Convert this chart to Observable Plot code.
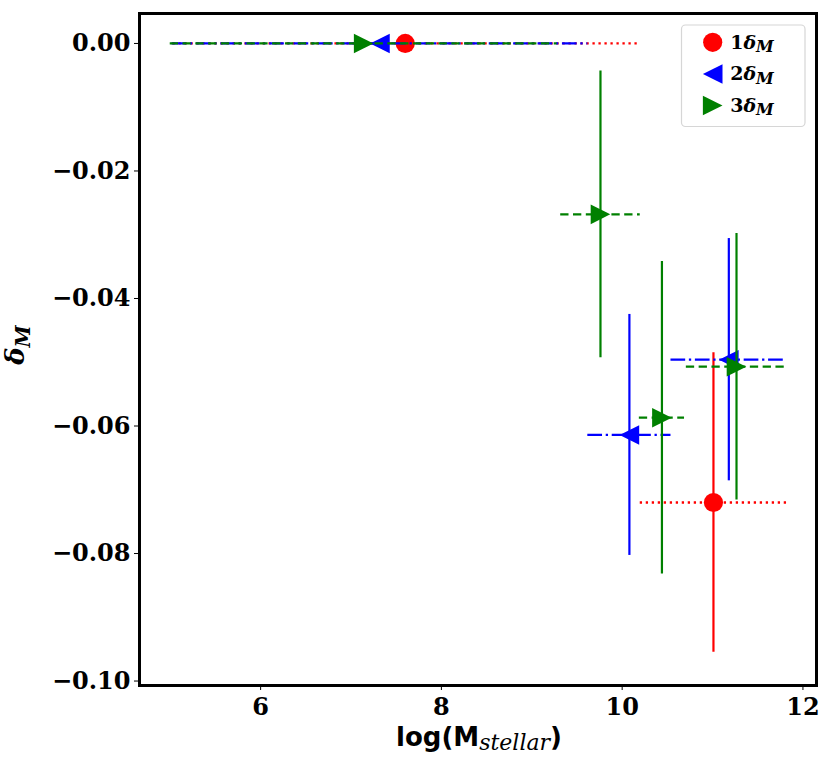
<!DOCTYPE html>
<html>
<head>
<meta charset="utf-8">
<script src="https://cdn.jsdelivr.net/npm/d3@7"></script>
<script src="https://cdn.jsdelivr.net/npm/@observablehq/plot@0.6"></script>
<style>
  html, body { margin: 0; padding: 0; background: #fff; }
  #chart { width: 830px; height: 768px; position: relative; }
</style>
</head>
<body>
<div id="chart"></div>
<script>
// ---- data ----
const seriesNames = ["1δM", "2δM", "3δM"];
const seriesColors = ["#ff0000", "#0000ff", "#008000"];
const seriesDash = ["2.3,3.7", "14.7,3.7,2.3,3.7", "8.3,4.5"];

const x1 = [7.60, 11.01];
const y1 = [0.0, -0.0720];
const xerr1 = [2.57, 0.81];
const yerr1 = [0.0, 0.0235];

const x2 = [7.32, 10.08, 11.18];
const y2 = [0.0, -0.0614, -0.0496];
const xerr2 = [2.30, 0.46, 0.64];
const yerr2 = [0.0, 0.0189, 0.0190];

const x3 = [7.14, 9.76, 10.44, 11.265];
const y3 = [0.0, -0.0268, -0.0587, -0.0507];
const xerr3 = [2.14, 0.44, 0.25, 0.555];
const yerr3 = [0.0, 0.0225, 0.0245, 0.0209];

const xTicks = [6, 8, 10, 12];
const yTicks = [0, -0.02, -0.04, -0.06, -0.08, -0.10];

// ---- build rows ----
function rows(xs, ys, xe, ye, s) {
  return xs.map((x, i) => ({series: s, x, y: ys[i], xerr: xe[i], yerr: ye[i]}));
}
const data = [
  rows(x1, y1, xerr1, yerr1, seriesNames[0]),
  rows(x2, y2, xerr2, yerr2, seriesNames[1]),
  rows(x3, y3, xerr3, yerr3, seriesNames[2])
];

// custom triangle symbols (matplotlib '<' and '>')
const triLeft = {draw(ctx, size) { const s = Math.sqrt(size / Math.PI); ctx.moveTo(-s, 0); ctx.lineTo(s, -s); ctx.lineTo(s, s); ctx.closePath(); }};
const triRight = {draw(ctx, size) { const s = Math.sqrt(size / Math.PI); ctx.moveTo(s, 0); ctx.lineTo(-s, -s); ctx.lineTo(-s, s); ctx.closePath(); }};
const symbols = ["circle", triLeft, triRight];
const radii = [9.6, 9.8, 9.8];

const marks = [];
data.forEach((rs, i) => {
  marks.push(Plot.ruleY(rs, {
    y: "y", x1: d => d.x - d.xerr, x2: d => d.x + d.xerr,
    stroke: seriesColors[i], strokeWidth: 2.3, strokeDasharray: seriesDash[i]
  }));
  marks.push(Plot.ruleX(rs.filter(d => d.yerr > 0), {
    x: "x", y1: d => d.y - d.yerr, y2: d => d.y + d.yerr,
    stroke: seriesColors[i], strokeWidth: 2.2
  }));
  marks.push(Plot.dot(rs, {
    x: "x", y: "y", r: radii[i], symbol: symbols[i], fill: seriesColors[i], stroke: "none"
  }));
});

const tickFont = {fontFamily: "DejaVu Serif", fontWeight: "bold", fontSize: 24};

const chart = Plot.plot({
  width: 830,
  height: 768,
  marginLeft: 139,
  marginRight: 14,
  marginTop: 13,
  marginBottom: 83,
  style: {background: "#fff", color: "#000", overflow: "visible"},
  x: {domain: [4.66, 12.15], label: null},
  y: {domain: [-0.1007, 0.0047], label: null},
  marks: [
    Plot.axisX({ticks: xTicks, tickSize: 5, tickPadding: 7, tickFormat: d => String(d), label: null, ...tickFont}),
    Plot.axisY({ticks: yTicks, tickSize: 5, tickPadding: 4,
      tickFormat: d => (d < 0 ? "\u2212" : "") + Math.abs(d).toFixed(2), label: null, ...tickFont}),
    ...marks,
    Plot.frame({stroke: "#000", strokeWidth: 3})
  ]
});

document.getElementById("chart").appendChild(chart);

// ---- axis labels & legend (text) ----
const svg = d3.select(chart);

// x label
const xl = svg.append("text")
  .attr("x", 479).attr("y", 746)
  .attr("text-anchor", "middle")
  .attr("fill", "#000");
xl.append("tspan").attr("font-family", "DejaVu Sans").attr("font-weight", "bold").attr("font-size", 26).text("log(M");
xl.append("tspan").attr("font-family", "DejaVu Serif").attr("font-style", "italic").attr("font-size", 22).attr("dy", 4).text("stellar");
xl.append("tspan").attr("font-family", "DejaVu Sans").attr("font-weight", "bold").attr("font-size", 26).attr("dy", -4).text(")");

// y label
const yl = svg.append("text")
  .attr("transform", "translate(24,345) rotate(-90)")
  .attr("text-anchor", "middle")
  .attr("fill", "#000")
  .attr("font-family", "DejaVu Serif").attr("font-weight", "bold").attr("font-style", "italic");
yl.append("tspan").attr("font-size", 26).text("δ");
yl.append("tspan").attr("font-size", 20).attr("dy", 6).text("M");

// legend
const lg = svg.append("g");
lg.append("rect")
  .attr("x", 681.5).attr("y", 25).attr("width", 123.5).attr("height", 101.5)
  .attr("rx", 4).attr("fill", "#fff").attr("fill-opacity", 0.8)
  .attr("stroke", "#d6d6d6").attr("stroke-width", 1.2);
const legendY = [42.3, 74, 105.5];
const legendSym = [d3.symbol(d3.symbolCircle, 9.6 * 9.6 * Math.PI), d3.symbol(triLeft, 9.8 * 9.8 * Math.PI), d3.symbol(triRight, 9.8 * 9.8 * Math.PI)];
const legendNum = ["1", "2", "3"];
seriesNames.forEach((name, i) => {
  lg.append("path")
    .attr("transform", `translate(712.7,${legendY[i]})`)
    .attr("d", legendSym[i]())
    .attr("fill", seriesColors[i]);
  const t = lg.append("text")
    .attr("x", 752).attr("y", legendY[i] + 6.2)
    .attr("fill", "#000")
    .attr("font-family", "DejaVu Serif").attr("font-weight", "bold");
  t.append("tspan").attr("font-size", 19).text(legendNum[i]);
  t.append("tspan").attr("font-size", 19).attr("font-style", "italic").text("δ");
  t.append("tspan").attr("font-size", 16).attr("font-style", "italic").attr("dy", 3.5).text("M");
});
</script>
</body>
</html>
